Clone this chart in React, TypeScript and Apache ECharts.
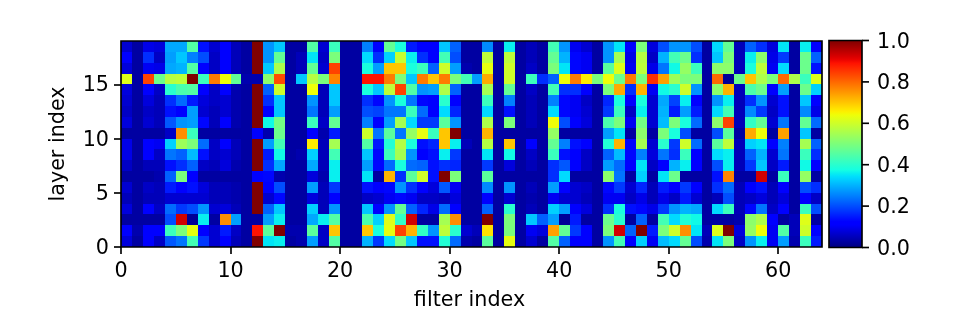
import React, { useEffect, useRef } from "react";
import * as echarts from "echarts";

const xTicks = [0, 10, 20, 30, 40, 50, 60];
const yTicks = [0, 5, 10, 15];
const barTicks = [0, 0.2, 0.4, 0.6, 0.8, 1];
const xName = "filter index";
const yName = "layer index";

const row0 = [.08,.03,.11,.06,.21,.24,.43,.18,.07,.11,.05,.03,1,.35,.36,.03,.04,.28,.06,.45,.03,.03,.3,.18,.34,.49,.32,.14,.14,.39,.23,.04,.03,.46,.03,.63,.03,.07,.03,.45,.22,.11,.11,.03,.27,.43,.11,.33,.1,.31,.34,.47,.2,.04,.35,.5,.06,.27,.36,.1,.28,.04,.42,.15];
const row1 = [.11,.04,.11,.11,.42,.5,.63,.11,.07,.15,.06,.03,.89,.46,1,.04,.04,.46,.06,.7,.03,.03,.7,.38,.63,.84,.72,.41,.27,.58,.4,.07,.05,.67,.03,.5,.03,.1,.08,.74,.47,.18,.11,.03,.5,.93,.22,1,.15,.5,.6,.76,.35,.05,.62,1,.08,.53,.64,.1,.45,.05,.6,.11];
const row2 = [.03,.03,.03,.03,.2,.93,.02,.36,.03,.76,.28,.03,.03,.28,.36,.03,.03,.29,.36,.45,.03,.03,.44,.33,.62,.41,.93,.03,.03,.55,.76,.03,.03,1,.03,.5,.03,.32,.22,.28,.02,.15,.03,.03,.48,.4,.03,.22,.03,.43,.34,.39,.37,.03,.03,.03,.04,.52,.56,.12,.03,.05,.62,.03];
const row3 = [.08,.03,.11,.06,.23,.18,.2,.27,.07,.08,.05,.03,1,.22,.32,.03,.03,.33,.05,.27,.03,.03,.32,.11,.27,.47,.22,.16,.09,.23,.11,.03,.03,.22,.03,.4,.03,.05,.03,.33,.28,.11,.08,.03,.17,.38,.14,.13,.09,.18,.27,.3,.29,.03,.34,.42,.05,.13,.24,.06,.11,.03,.42,.2];
const row4 = [.05,.03,.05,.05,.07,.07,.07,.07,.05,.05,.04,.03,1,.07,.13,.03,.03,.08,.05,.11,.03,.03,.06,.07,.1,.13,.1,.06,.06,.05,.08,.03,.03,.12,.03,.07,.03,.04,.03,.1,.07,.07,.05,.03,.1,.1,.06,.09,.05,.09,.06,.15,.07,.03,.05,.2,.05,.06,.08,.05,.08,.03,.11,.06];
const row5 = [.07,.03,.06,.05,.15,.11,.14,.08,.05,.05,.04,.03,1,.11,.2,.03,.03,.28,.05,.18,.03,.03,.14,.11,.13,.27,.17,.11,.08,.21,.1,.03,.03,.26,.03,.27,.03,.05,.03,.28,.11,.07,.06,.03,.13,.18,.07,.16,.05,.15,.11,.18,.11,.03,.17,.23,.05,.12,.14,.05,.11,.03,.2,.17];
const row6 = [.03,.03,.03,.04,.22,.5,.11,.03,.03,.03,.03,.03,.11,.13,.04,.03,.03,.08,.04,.36,.03,.03,.35,.03,.72,.17,.46,.6,.14,1,.5,.03,.03,.46,.03,.03,.03,.03,.03,.17,.34,.03,.03,.03,.52,.24,.03,.33,.03,.35,.48,.03,.03,.03,.14,.77,.03,.03,.93,.03,.42,.03,.53,.03];
const row7 = [.06,.03,.05,.05,.14,.17,.22,.06,.05,.08,.04,.03,1,.17,.29,.03,.03,.29,.05,.36,.03,.03,.28,.13,.23,.38,.23,.22,.14,.17,.16,.03,.03,.18,.03,.08,.03,.05,.03,.17,.21,.11,.06,.03,.28,.23,.11,.35,.06,.11,.3,.36,.11,.03,.2,.36,.05,.18,.32,.06,.15,.03,.37,.11];
const row8 = [.09,.03,.11,.06,.24,.22,.31,.14,.06,.07,.05,.03,1,.15,.37,.03,.04,.33,.05,.43,.03,.03,.32,.13,.42,.55,.27,.11,.14,.36,.18,.03,.03,.35,.03,.37,.03,.06,.03,.42,.14,.11,.06,.03,.22,.31,.13,.25,.08,.24,.17,.42,.12,.03,.34,.36,.05,.22,.3,.07,.24,.03,.42,.17];
const row9 = [.09,.03,.11,.1,.33,.54,.5,.23,.06,.11,.05,.03,1,.28,.43,.03,.03,.66,.05,.55,.03,.03,.45,.15,.39,.57,.38,.14,.16,.7,.36,.05,.03,.57,.03,.7,.03,.11,.03,.47,.25,.14,.11,.03,.39,.72,.13,.55,.07,.4,.18,.6,.23,.03,.46,.58,.05,.33,.35,.11,.25,.03,.55,.22];
const row10 = [.03,.03,.03,.03,.06,.76,.42,.03,.03,.03,.03,.03,.11,.04,.48,.03,.03,.12,.04,.15,.03,.03,.6,.24,.46,.24,.53,.63,.42,.7,1,.03,.03,.72,.03,.03,.03,.03,.03,.53,.03,.03,.03,.03,.28,.35,.03,.52,.03,.5,.38,.2,.03,.03,.2,.46,.03,.73,.64,.03,.74,.03,.32,.03];
const row11 = [.08,.03,.07,.05,.21,.27,.28,.13,.05,.11,.04,.03,1,.37,.49,.03,.03,.42,.06,.47,.03,.03,.25,.12,.28,.55,.34,.18,.18,.46,.27,.03,.03,.56,.03,.5,.03,.05,.03,.64,.2,.12,.08,.03,.44,.5,.1,.49,.07,.31,.5,.38,.23,.03,.52,.84,.05,.41,.47,.07,.24,.03,.47,.23];
const row12 = [.06,.03,.06,.05,.14,.12,.28,.07,.05,.07,.04,.03,1,.12,.32,.03,.03,.24,.05,.28,.03,.03,.2,.19,.24,.24,.42,.23,.11,.34,.16,.03,.03,.34,.03,.14,.03,.05,.03,.34,.13,.1,.07,.03,.18,.42,.06,.36,.07,.3,.15,.28,.15,.03,.34,.43,.05,.26,.18,.06,.14,.03,.26,.09];
const row13 = [.07,.03,.08,.05,.17,.23,.15,.08,.06,.07,.04,.03,1,.17,.32,.03,.03,.27,.05,.32,.03,.03,.17,.13,.27,.38,.24,.13,.12,.4,.11,.03,.03,.42,.03,.25,.03,.05,.03,.25,.13,.1,.06,.03,.16,.38,.11,.38,.07,.29,.19,.36,.11,.03,.27,.36,.05,.17,.27,.07,.14,.03,.32,.11];
const row14 = [.08,.03,.11,.06,.4,.44,.45,.12,.06,.12,.04,.03,1,.22,.6,.03,.03,.64,.05,.32,.03,.03,.38,.32,.58,.84,.45,.27,.28,.56,.22,.03,.03,.55,.03,.47,.03,.06,.03,.43,.17,.17,.11,.03,.5,.73,.17,.72,.1,.37,.4,.6,.27,.03,.52,.72,.05,.44,.48,.11,.28,.03,.48,.33];
const row15 = [.62,.03,.84,.48,.57,.58,1,.42,.78,.64,.47,.04,.04,.52,.83,.03,.32,.57,.5,.77,.03,.03,.89,.89,.78,.5,.32,.78,.7,.78,.5,.43,.28,.73,.03,.6,.03,.42,.17,.22,.64,.78,.66,.5,.64,.48,.78,.5,.86,.74,.54,.5,.5,.03,.8,.02,.48,.7,.56,.5,.8,.56,.42,.62];
const row16 = [.08,.03,.1,.09,.29,.3,.45,.12,.06,.11,.05,.03,1,.32,.56,.03,.05,.47,.07,.84,.03,.03,.38,.28,.7,.7,.38,.42,.22,.6,.28,.04,.03,.63,.03,.6,.03,.06,.03,.5,.35,.13,.1,.03,.46,.62,.1,.58,.09,.24,.37,.53,.42,.03,.52,.52,.05,.38,.58,.1,.34,.03,.48,.14];
const row17 = [.11,.03,.17,.06,.28,.32,.25,.2,.06,.11,.05,.03,1,.27,.47,.03,.05,.35,.06,.5,.03,.03,.34,.17,.33,.59,.36,.17,.11,.43,.2,.03,.03,.58,.03,.58,.03,.05,.03,.47,.3,.13,.1,.03,.27,.55,.09,.57,.06,.3,.43,.48,.17,.03,.32,.5,.05,.36,.52,.09,.18,.03,.48,.22];
const row18 = [.07,.03,.09,.08,.29,.29,.45,.14,.07,.11,.05,.03,1,.27,.32,.03,.03,.45,.07,.42,.03,.03,.25,.12,.47,.38,.15,.12,.11,.32,.22,.03,.03,.26,.03,.36,.03,.05,.03,.43,.27,.1,.07,.03,.27,.35,.11,.5,.08,.2,.27,.27,.2,.03,.34,.47,.05,.22,.17,.08,.35,.03,.36,.11];
const rows = [row0,row1,row2,row3,row4,row5,row6,row7,row8,row9,row10,row11,row12,row13,row14,row15,row16,row17,row18];

// matplotlib "jet" segment tables
const jetR = [[0,0],[.35,0],[.66,1],[.89,1],[1,.5]];
const jetG = [[0,0],[.125,0],[.375,1],[.64,1],[.91,0],[1,0]];
const jetB = [[0,.5],[.11,1],[.34,1],[.65,0],[1,0]];
function seg(t: number[][], v: number) {
  for (let i = 1; i < t.length; i++) {
    if (v <= t[i][0]) {
      const [a, b] = t[i - 1];
      const [c, d] = t[i];
      return b + ((v - a) / (c - a)) * (d - b);
    }
  }
  return t[t.length - 1][1];
}
function jet(v: number) {
  const r = Math.round(255 * seg(jetR, v));
  const g = Math.round(255 * seg(jetG, v));
  const b = Math.round(255 * seg(jetB, v));
  return `rgb(${r},${g},${b})`;
}

const FONT = "DejaVu Sans";
const FS = 20.7;
const TXT = "#000";
const LW = 1.65;

export default function App() {
  const ref = useRef<HTMLDivElement>(null);
  useEffect(() => {
    const chart = echarts.init(ref.current!, undefined, { renderer: "svg" });
    const cells: number[][] = [];
    rows.forEach((r, y) => r.forEach((v, x) => cells.push([x, y, v])));
    const stops = [];
    for (let i = 0; i <= 64; i++) stops.push({ offset: i / 64, color: jet(1 - i / 64) });
    chart.setOption({
      animation: false,
      backgroundColor: "#fff",
      textStyle: { fontFamily: FONT },
      grid: [
        { left: 121, top: 41, width: 701, height: 206 },
        { left: 829, top: 40.5, width: 33, height: 207 },
      ],
      xAxis: [
        {
          gridIndex: 0, type: "value", min: 0, max: 64,
          axisLine: { show: false, onZero: false },
          splitLine: { show: false },
          axisTick: { show: true, length: 7, customValues: xTicks, lineStyle: { color: "#000", width: LW } },
          axisLabel: { customValues: xTicks, fontFamily: FONT, fontSize: FS, color: TXT, margin: 12 },
          name: xName, nameLocation: "middle", nameGap: 41,
          nameTextStyle: { fontFamily: FONT, fontSize: FS, color: TXT, padding: [0, 4, 0, 0] },
        },
        {
          gridIndex: 1, type: "value", min: 0, max: 1,
          axisLine: { show: false, onZero: false },
          splitLine: { show: false },
          axisTick: { show: false },
          axisLabel: { show: false },
        },
      ],
      yAxis: [
        {
          gridIndex: 0, type: "value", min: 0, max: 19,
          axisLine: { show: false, onZero: false },
          splitLine: { show: false },
          axisTick: { show: true, length: 7, customValues: yTicks, lineStyle: { color: "#000", width: LW } },
          axisLabel: { customValues: yTicks, fontFamily: FONT, fontSize: FS, color: TXT, margin: 12 },
          name: yName, nameLocation: "middle", nameGap: 54, nameRotate: 90,
          nameTextStyle: { fontFamily: FONT, fontSize: FS, color: TXT },
        },
        {
          gridIndex: 1, type: "value", min: 0, max: 1, position: "right",
          axisLine: { show: false, onZero: false },
          splitLine: { show: false },
          axisTick: { show: false },
          axisLabel: { customValues: barTicks, fontFamily: FONT, fontSize: FS, color: TXT, margin: 15, formatter: (v: number) => v.toFixed(1) },
        },
      ],
      series: [
        {
          type: "custom", xAxisIndex: 0, yAxisIndex: 0, data: cells, silent: true, clip: false,
          encode: { x: 0, y: 1 },
          renderItem: (_p: any, api: any) => {
            const x = api.value(0), y = api.value(1);
            const a = api.coord([x, y + 1]);
            const b = api.coord([x + 1, y]);
            const x0 = Math.round(a[0]), y0 = Math.round(a[1]);
            return {
              type: "rect",
              shape: { x: x0, y: y0, width: Math.round(b[0]) - x0, height: Math.round(b[1]) - y0 },
              style: { fill: jet(api.value(2)) },
            };
          },
        },
        {
          type: "custom", xAxisIndex: 0, yAxisIndex: 0, data: [[0, 0]], silent: true, clip: false, z: 5,
          renderItem: (_p: any, api: any) => {
            const a = api.coord([0, 19]);
            const b = api.coord([64, 0]);
            return {
              type: "rect",
              shape: { x: a[0], y: a[1], width: b[0] - a[0], height: b[1] - a[1] },
              style: { fill: "none", stroke: "#000", lineWidth: LW },
            };
          },
        },
        {
          type: "custom", xAxisIndex: 1, yAxisIndex: 1, data: [[0, 1]], silent: true, clip: false,
          encode: { x: 0, y: 1 },
          renderItem: (_p: any, api: any) => {
            const a = api.coord([0, 1]);
            const b = api.coord([1, 0]);
            return {
              type: "rect",
              shape: { x: a[0], y: a[1], width: b[0] - a[0], height: b[1] - a[1] },
              style: {
                fill: { type: "linear", x: 0, y: 0, x2: 0, y2: 1, colorStops: stops },
                stroke: "#000", lineWidth: LW,
              },
            };
          },
        },
        {
          type: "custom", xAxisIndex: 1, yAxisIndex: 1, data: barTicks.map((v) => [1, v]), silent: true, clip: false, z: 6,
          encode: { x: 0, y: 1 },
          renderItem: (_p: any, api: any) => {
            const p = api.coord([api.value(0), api.value(1)]);
            return {
              type: "line",
              shape: { x1: p[0], y1: p[1], x2: p[0] + 7, y2: p[1] },
              style: { stroke: "#000", lineWidth: LW },
            };
          },
        },
      ],
    });
    return () => chart.dispose();
  }, []);
  return <div ref={ref} style={{ position: "absolute", left: 0, top: 0, width: 956, height: 327, filter: "blur(0.6px)" }} />;
}
